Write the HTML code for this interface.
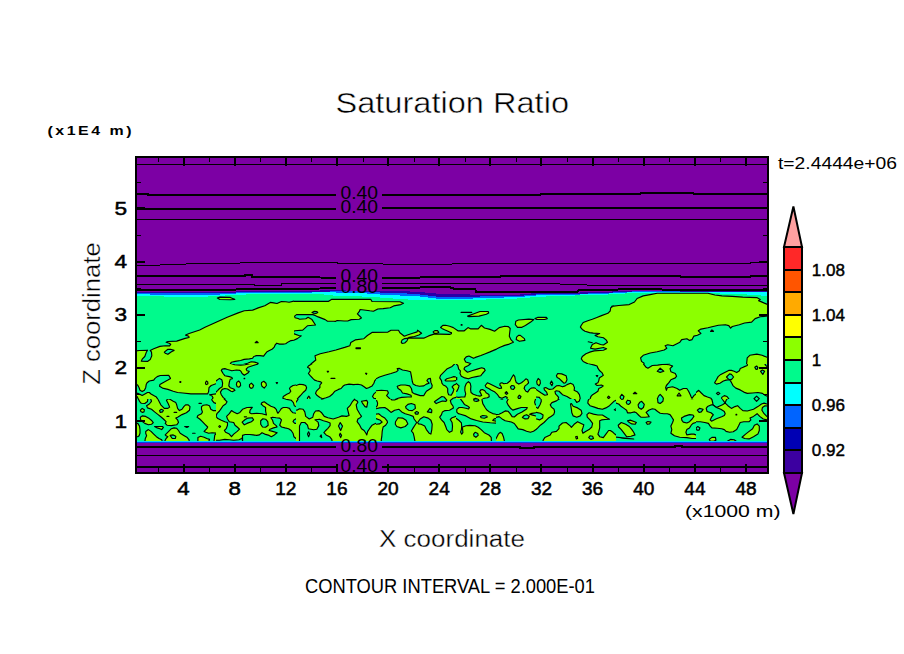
<!DOCTYPE html>
<html><head><meta charset="utf-8"><style>html,body{margin:0;padding:0;background:#fff;width:904px;height:654px;overflow:hidden}svg{display:block}</style></head>
<body><svg width="904" height="654" viewBox="0 0 904 654" shape-rendering="crispEdges">
<rect width="904" height="654" fill="#fff"/>
<rect x="135" y="156" width="634" height="318" fill="#7c00a4"/>
<polygon fill="#2800a8" points="136,292.3 160,292.3 190,292.5 215,292.3 236,291.5 270,291.4 300,291.5 320,290.5 336,290.3 360,290.8 380,290.5 400,291.0 420,292.0 436,293.5 470,294.5 480,295.0 520,294.5 536,293.0 560,293.0 600,292.0 636,290.5 700,290.8 740,290.3 768,290.2 768,291.5 740,291.5 700,291.6 636,291.3 600,293.2 560,294.2 536,294.5 520,295.8 480,296.5 470,296.5 436,296.5 420,294.5 400,293.0 380,292.5 360,291.5 336,291.3 320,291.8 300,292.2 270,292.2 236,292.5 215,293.3 190,293.5 160,293.2 136,293.2"/>
<polygon fill="#0064ff" points="136,293.2 160,293.2 190,293.5 215,293.3 236,292.5 270,292.2 300,292.2 320,291.8 336,291.3 360,291.5 380,292.5 400,293.0 420,294.5 436,296.5 470,296.5 480,296.5 520,295.8 536,294.5 560,294.2 600,293.2 636,291.3 700,291.6 740,291.5 768,291.5 768,292.5 740,292.4 700,292.0 636,292.0 600,294.0 560,295.0 536,295.5 520,297.0 480,298.3 470,298.6 436,298.5 420,296.5 400,295.5 380,294.5 360,293.0 336,292.5 320,292.3 300,292.8 270,293.0 236,293.5 215,294.8 190,295.5 160,295.0 136,293.8"/>
<polygon fill="#00ffff" points="136,293.8 160,295.0 190,295.5 215,294.8 236,293.5 270,293.0 300,292.8 320,292.3 336,292.5 360,293.0 380,294.5 400,295.5 420,296.5 436,298.5 470,298.6 480,298.3 520,297.0 536,295.5 560,295.0 600,294.0 636,292.0 700,292.0 740,292.4 768,292.5 768,296.0 740,294.0 700,293.0 636,292.8 600,295.0 560,295.8 536,297.0 520,298.4 480,299.7 470,300.3 436,300.3 420,300.3 400,299.0 380,297.5 360,296.4 336,295.8 320,294.0 300,293.6 270,293.8 236,294.8 215,296.2 190,297.3 160,296.4 136,295.8"/>
<polygon fill="#00fa8c" points="136,295.8 160,296.4 190,297.3 215,296.2 236,294.8 270,293.8 300,293.6 320,294.0 336,295.8 360,296.4 380,297.5 400,299.0 420,300.3 436,300.3 470,300.3 480,299.7 520,298.4 536,297.0 560,295.8 600,295.0 636,292.8 700,293.0 740,294.0 768,296.0 768,441 136,441"/>
<clipPath id="w0"><rect x="136" y="288" width="158" height="76"/></clipPath>
<g clip-path="url(#w0)" stroke="#000" stroke-width="1.15" stroke-linejoin="round" shape-rendering="auto">
<polygon fill="#8cff00" points="132.5,351.1 139.5,350.5 147.5,350.2 146.2,352.6 144.8,356.5 142.2,359.2 141.3,361.2 147.5,361.4 150.2,359.6 151.8,355.7 151.5,352.1 150.2,350.4 153.7,348.8 159.9,346.4 165.2,345.8 169.6,345.8 170.7,344.3 169.2,343.3 166.1,342.2 167.9,341.5 176.7,341.1 185.1,338.4 189.1,337.5 188.7,336.2 185.6,335.1 189.1,333.5 199.7,330.0 205.0,327.3 216.1,322.3 227.2,317.3 238.2,312.9 244.3,310.7 252.6,310.1 258.2,307.9 264.8,305.7 270.3,302.4 273.6,302.9 277.0,303.5 281.4,301.5 285.8,301.8 289.1,302.2 294.0,301.1 298.5,300.9 298.5,340.1 294.0,340.2 291.0,340.6 288.3,341.9 285.7,343.7 283.0,344.1 279.5,344.1 276.8,343.2 275.1,345.0 274.2,347.2 272.4,349.0 268.9,350.8 266.7,352.1 264.9,354.3 263.6,356.1 260.0,355.6 256.5,355.6 253.8,356.5 252.5,358.3 249.4,358.9 244.1,359.4 240.6,360.5 235.2,361.4 231.3,362.3 230.4,363.6 231.7,364.5 235.2,364.9 240.6,365.1 243.2,364.5 247.6,363.2 251.2,361.8 254.7,362.1 258.3,363.2 257.4,364.2 253.8,364.9 250.3,365.8 247.6,367.1 246.1,371.9 132.5,371.9"/>
<polygon fill="#00fa8c" points="164.3,352.1 167.9,349.3 170.5,349.3 174.1,350.4 171.4,351.7 167.9,354.3 165.2,353.2"/>
<polygon fill="none" points="255.2,342.7 256.6,341.3 258.2,342.7"/>
<polygon fill="#8cff00" points="217.3,298.1 219.9,297.1 230.4,297.4 234.8,299.4 230.4,299.7 219.9,299.5"/>
</g>
<clipPath id="w1"><rect x="294" y="288" width="158" height="76"/></clipPath>
<g clip-path="url(#w1)" stroke="#000" stroke-width="1.15" stroke-linejoin="round" shape-rendering="auto">
<polygon fill="#8cff00" points="290.0,301.4 328.3,301.4 330.6,299.9 331.8,299.3 370.7,299.3 372.0,301.5 399.9,301.8 403.5,303.3 400.8,304.6 393.7,305.9 390.2,307.7 383.1,308.6 377.8,309.0 373.4,311.2 369.8,310.8 360.1,309.5 359.2,311.7 357.4,313.9 360.1,316.5 361.4,317.9 359.2,319.2 351.2,319.6 347.7,321.0 344.2,321.0 337.1,320.5 335.3,321.4 334.0,321.2 327.5,321.2 325.2,319.6 318.2,316.9 315.1,315.4 312.8,314.6 296.5,314.6 294.6,316.1 295.0,317.7 298.1,318.5 299.6,319.2 305.8,318.8 308.1,317.3 312.0,319.6 315.5,325.0 307.4,325.8 302.7,330.1 295.0,330.8 292.7,331.6 294.2,333.9 298.8,335.5 301.2,335.9 297.3,338.6 291.9,340.9 288.0,342.0 288.0,301.4"/>
<polygon fill="#00fa8c" points="312.0,312.4 314.3,311.3 316.7,311.5 317.8,312.4 315.9,313.4 313.6,313.2"/>
<polygon fill="#8cff00" points="308.0,370.1 308.0,367.0 311.5,363.5 315.8,360.0 315.0,355.8 320.2,353.7 329.0,351.8 335.9,350.0 344.7,347.4 349.9,345.7 350.8,342.5 355.2,339.9 363.9,338.7 367.4,335.5 372.0,332.4 387.9,332.1 391.0,330.2 398.5,330.2 399.9,332.8 404.3,336.2 407.4,335.0 412.7,333.3 417.1,331.9 417.6,330.2 421.6,333.3 418.9,335.0 414.5,336.5 409.2,337.2 408.3,338.1 412.7,337.9 424.2,338.1 428.6,335.9 433.9,334.1 439.7,334.1 449.7,334.4 452.6,333.1 449.7,332.1 444.6,329.8 441.9,328.4 440.6,327.5 442.8,325.3 445.5,325.3 449.7,326.2 453.3,327.6 460.0,328.0 460.0,372.0"/>
<polygon fill="#00fa8c" points="401.2,342.1 402.1,339.9 404.7,338.6 408.3,338.1 407.0,340.8 404.7,343.0 402.1,343.4"/>
<polygon fill="#8cff00" points="433.1,331.9 434.8,330.6 437.5,330.6 438.8,332.4 437.0,333.3 434.4,333.3"/>
<polygon fill="none" points="356.0,347.9 360.4,347.9 360.4,348.6 356.0,348.6"/>
</g>
<clipPath id="w2"><rect x="452" y="288" width="158" height="76"/></clipPath>
<g clip-path="url(#w2)" stroke="#000" stroke-width="1.15" stroke-linejoin="round" shape-rendering="auto">
<polygon fill="#8cff00" points="440.0,326.2 449.7,326.2 453.3,327.6 457.9,330.8 464.3,330.8 468.0,327.6 470.8,328.9 478.1,328.9 481.3,325.3 484.5,328.0 490.0,329.4 494.6,331.2 499.2,327.6 504.7,326.2 508.4,326.6 510.2,328.5 509.8,331.7 509.3,336.3 511.1,339.9 513.4,342.2 509.3,344.1 504.7,345.4 500.1,347.3 496.5,349.1 490.0,351.9 485.4,353.7 480.9,355.5 475.4,357.4 473.5,358.3 468.9,356.0 466.2,356.9 464.3,359.2 465.7,362.0 469.9,363.3 471.2,364.3 469.4,366.0 469.0,372.0 440.0,372.0"/>
<polygon fill="none" points="461.1,312.4 471.7,312.4"/>
<polygon fill="#8cff00" points="467.6,316.1 472.6,314.3 480.0,311.5 488.2,311.5 488.7,312.9 486.4,314.3 479.0,316.1 468.9,316.6"/>
<polygon fill="none" points="461.2,324.6 462.0,324.6 462.0,325.2 461.2,325.2"/>
<polygon fill="#8cff00" points="515.8,321.2 518.4,320.0 528.9,319.1 533.8,319.5 530.7,322.1 525.4,325.6 521.9,327.3 517.5,327.3 515.3,324.7"/>
<polygon fill="#8cff00" points="535.0,318.6 537.6,317.4 546.4,317.4 547.3,318.6 544.6,319.5 536.8,319.5"/>
<polygon fill="#8cff00" points="516.6,337.2 518.5,335.4 520.3,335.4 524.4,338.6 524.9,340.4 519.4,341.3 516.2,339.5"/>
<polygon fill="none" points="588.2,341.8 592.3,342.7"/>
</g>
<clipPath id="w3"><rect x="452" y="288" width="158" height="76"/></clipPath>
<g clip-path="url(#w3)" stroke="#000" stroke-width="1.15" stroke-linejoin="round" shape-rendering="auto">
<polygon fill="#8cff00" points="611.7,306.4 618.7,305.5 629.2,304.6 634.5,302.0 637.1,298.5 643.2,295.9 650.2,294.6 657.2,293.2 707.9,293.2 714.9,295.0 721.9,295.9 732.3,296.4 742.8,297.1 756.8,297.6 760.3,299.4 758.6,300.6 763.8,302.9 768.0,304.6 775.0,305.0 775.0,316.0 768.0,316.0 760.3,316.8 755.1,318.6 751.6,322.1 744.6,323.0 739.3,324.7 732.3,326.5 730.6,328.2 728.8,325.6 725.4,324.7 718.4,325.2 713.1,326.5 707.9,327.8 700.9,329.1 698.3,330.8 700.9,333.4 697.4,335.2 693.9,336.1 692.1,339.6 689.5,340.4 686.9,338.7 681.7,339.6 679.9,342.2 676.4,343.9 672.9,345.7 667.7,344.8 665.1,345.7 666.8,348.3 664.2,350.0 657.2,351.8 650.2,353.0 643.2,355.3 640.6,357.9 641.5,361.4 644.1,363.2 643.2,367.0 643.0,372.0 596.0,372.0 596.0,366.0 592.3,364.7 587.8,363.8 583.2,361.5 581.3,358.8 582.3,356.5 585.9,353.7 590.5,351.9 594.2,350.9 603.4,350.2 606.6,348.7 603.4,347.5 595.1,349.1 590.5,348.2 592.3,344.5 596.0,342.7 600.6,344.5 603.4,345.0 607.5,342.2 606.1,339.9 603.4,337.7 597.9,336.7 595.1,335.4 596.5,334.9 599.7,333.5 593.3,333.1 589.6,332.6 585.0,331.2 582.3,329.4 580.4,327.1 581.3,325.3 583.2,322.5 587.8,320.7 592.3,319.3 596.9,317.5 601.5,315.6 607.9,313.3 610.2,311.0 610.7,307.8 613.4,306.0"/>
</g>
<clipPath id="w4"><rect x="610" y="288" width="158" height="76"/></clipPath>
<g clip-path="url(#w4)" stroke="#000" stroke-width="1.15" stroke-linejoin="round" shape-rendering="auto">
<polygon fill="#8cff00" points="611.7,306.4 618.7,305.5 629.2,304.6 634.5,302.0 637.1,298.5 643.2,295.9 650.2,294.6 657.2,293.2 707.9,293.2 714.9,295.0 721.9,295.9 732.3,296.4 742.8,297.1 756.8,297.6 760.3,299.4 758.6,300.6 763.8,302.9 768.0,304.6 775.0,305.0 775.0,316.0 768.0,316.0 760.3,316.8 755.1,318.6 751.6,322.1 744.6,323.0 739.3,324.7 732.3,326.5 730.6,328.2 728.8,325.6 725.4,324.7 718.4,325.2 713.1,326.5 707.9,327.8 700.9,329.1 698.3,330.8 700.9,333.4 697.4,335.2 693.9,336.1 692.1,339.6 689.5,340.4 686.9,338.7 681.7,339.6 679.9,342.2 676.4,343.9 672.9,345.7 667.7,344.8 665.1,345.7 666.8,348.3 664.2,350.0 657.2,351.8 650.2,353.0 643.2,355.3 640.6,357.9 641.5,361.4 644.1,363.2 643.2,367.0 643.0,372.0 596.0,372.0 596.0,366.0 592.3,364.7 587.8,363.8 583.2,361.5 581.3,358.8 582.3,356.5 585.9,353.7 590.5,351.9 594.2,350.9 603.4,350.2 606.6,348.7 603.4,347.5 595.1,349.1 590.5,348.2 592.3,344.5 596.0,342.7 600.6,344.5 603.4,345.0 607.5,342.2 606.1,339.9 603.4,337.7 597.9,336.7 595.1,335.4 596.5,334.9 599.7,333.5 593.3,333.1 589.6,332.6 585.0,331.2 582.3,329.4 580.4,327.1 581.3,325.3 583.2,322.5 587.8,320.7 592.3,319.3 596.9,317.5 601.5,315.6 607.9,313.3 610.2,311.0 610.7,307.8 613.4,306.0"/>
<polygon fill="#8cff00" points="652.0,372.0 652.0,367.0 655.4,364.9 669.4,364.2 672.9,365.8 672.9,367.0 673.0,372.0"/>
<polygon fill="#8cff00" points="746.3,372.0 746.3,367.0 747.2,357.9 749.8,355.3 756.8,354.1 762.1,355.3 766.4,357.0 768.0,357.6 775.0,358.0 775.0,372.0"/>
<polygon fill="none" points="710.5,331.3 711.9,329.9 713.5,331.3"/>
</g>
<clipPath id="w5"><rect x="136" y="364" width="80" height="35"/></clipPath>
<g clip-path="url(#w5)" stroke="#000" stroke-width="1.15" stroke-linejoin="round" shape-rendering="auto">
<polygon fill="#8cff00" points="133.3,359.3 218.7,359.3 218.7,383.7 216.0,383.7 211.2,385.5 209.0,387.7 208.6,391.6 207.7,393.9 190.9,393.9 182.9,393.0 177.6,392.5 173.2,391.2 167.9,389.4 162.5,388.1 159.5,386.3 159.9,384.6 163.4,382.4 167.9,380.1 170.5,378.4 168.7,375.3 160.3,375.5 157.2,376.6 155.0,378.4 153.7,380.1 149.3,381.0 147.1,382.8 146.2,384.6 145.7,387.7 144.4,390.3 142.2,391.6 140.0,390.3 139.1,387.7 137.8,385.2 136.0,384.1 133.3,384.1"/>
<polygon fill="#8cff00" points="133.3,393.7 137.8,393.2 142.2,395.5 147.5,392.5 149.3,392.5 151.0,394.0 153.7,395.6 156.4,397.1 158.1,399.6 158.7,401.8 160.3,404.5 161.7,408.9 133.3,408.9"/>
<polygon fill="#00fa8c" points="133.3,396.1 137.1,396.5 138.2,398.7 139.1,400.9 133.3,402.7"/>
<polygon fill="#8cff00" points="209.5,394.7 212.1,396.1 213.0,397.8 212.1,399.6 213.9,401.4 216.0,402.7 218.7,402.7 218.7,394.3 216.0,393.9"/>
<polygon fill="#8cff00" points="205.5,382.8 206.4,381.0 207.7,381.9 207.9,383.7 206.6,384.6 205.6,384.1"/>
<polygon fill="none" points="180.0,381.6 180.7,381.6 180.7,382.4 180.0,382.4"/>
</g>
<clipPath id="w6"><rect x="136" y="399" width="80" height="42"/></clipPath>
<g clip-path="url(#w6)" stroke="#000" stroke-width="1.15" stroke-linejoin="round" shape-rendering="auto">
<polygon fill="#8cff00" points="137.3,393.3 137.8,397.8 139.5,401.3 141.3,403.3 144.8,403.5 147.5,401.5 147.9,398.2 149.3,396.9 150.2,393.3"/>
<polygon fill="#8cff00" points="150.2,393.3 150.6,398.7 151.5,401.3 149.3,404.0 146.6,405.7 147.5,407.9 151.5,409.3 154.6,411.9 158.1,414.6 160.8,416.8 163.4,419.0 166.1,421.7 165.2,423.4 167.0,425.2 171.4,425.6 176.7,424.8 178.5,422.5 177.6,419.9 175.8,418.1 177.6,417.2 182.0,414.6 186.4,412.8 189.5,410.2 190.0,406.6 188.2,404.8 185.6,404.8 183.8,406.6 182.0,409.3 179.4,410.6 177.6,408.4 176.7,404.8 175.8,402.6 173.2,401.3 169.6,399.1 167.9,398.7 166.5,400.4 167.9,403.1 168.7,404.8 169.6,407.1 167.9,408.4 164.3,408.4 160.8,404.8 159.5,402.2 158.1,399.5 157.2,396.9 156.8,393.3"/>
<polygon fill="#00fa8c" points="159.5,410.6 161.2,409.3 163.4,410.2 162.5,411.9 160.3,412.4"/>
<polygon fill="none" points="174.1,412.4 176.7,412.4"/>
<polygon fill="none" points="167.0,416.4 168.9,416.4"/>
<polygon fill="#8cff00" points="140.4,417.2 142.2,415.9 145.7,416.4 149.3,418.6 151.9,420.8 153.3,422.5 151.5,424.3 148.4,424.8 144.8,423.4 143.1,422.1 141.3,420.8 140.4,419.0"/>
<polygon fill="#8cff00" points="140.4,410.2 142.2,408.4 144.4,409.7 144.0,411.9 142.2,412.4 140.9,411.5"/>
<polygon fill="#8cff00" points="133.3,423.4 137.8,423.4 139.5,426.1 140.0,429.6 140.0,433.2 139.1,435.8 137.8,436.7 133.3,436.7"/>
<polygon fill="#8cff00" points="145.7,431.4 148.4,429.6 151.0,431.4 153.7,434.1 156.4,436.7 159.0,438.5 161.7,439.8 162.5,442.0 144.8,442.0 145.3,438.5 146.6,435.8 145.7,433.2"/>
<polygon fill="#8cff00" points="154.6,426.5 162.5,426.5 163.4,427.4 161.7,429.6 159.9,428.7 157.2,427.9"/>
<polygon fill="#8cff00" points="165.2,434.9 168.7,431.4 171.4,428.7 174.1,427.9 176.7,428.3 178.5,430.5 180.2,433.2 183.8,435.4 187.3,437.6 189.1,439.8 189.1,442.0 164.3,442.0 166.1,438.5 167.9,436.7 166.1,435.8"/>
<polygon fill="#00fa8c" points="170.1,435.4 173.2,434.9 175.8,436.3 175.4,438.5 172.3,438.5"/>
<polygon fill="#8cff00" points="201.5,406.6 203.3,405.3 206.8,404.8 209.5,405.7 210.8,409.3 213.0,410.6 216.0,410.6 218.7,410.6 218.7,433.2 216.0,433.2 212.1,432.7 208.6,433.2 205.9,432.3 204.1,431.4 206.8,428.7 207.7,427.0 205.0,424.3 202.4,421.7 199.7,419.0 197.1,417.2 197.9,415.5 201.5,413.7 202.4,411.9 201.5,409.3"/>
<polygon fill="#8cff00" points="210.8,393.3 211.2,396.9 212.1,400.4 213.9,402.6 216.0,403.5 218.7,403.5 218.7,393.3"/>
<polygon fill="#8cff00" points="197.9,437.6 200.6,436.3 204.1,437.2 206.8,438.5 209.5,439.4 208.6,442.0 197.9,442.0"/>
<polygon fill="#8cff00" points="214.8,434.9 216.0,434.1 218.7,434.1 218.7,442.0 213.9,442.0"/>
<polygon fill="none" points="192.6,433.2 195.1,433.2"/>
<polygon fill="none" points="184.7,426.5 188.7,426.5 186.9,427.4"/>
<polygon fill="none" points="199.0,403.4 201.3,403.4"/>
</g>
<clipPath id="w7"><rect x="216" y="364" width="80" height="35"/></clipPath>
<g clip-path="url(#w7)" stroke="#000" stroke-width="1.15" stroke-linejoin="round" shape-rendering="auto">
<polygon fill="#8cff00" points="213.3,359.3 230.6,359.3 230.6,363.3 234.6,364.7 240.8,365.1 245.2,364.7 249.6,363.8 254.9,363.1 258.5,363.3 257.6,364.2 253.2,365.5 247.9,367.3 246.1,369.1 247.0,370.8 249.2,371.3 247.9,373.1 244.3,375.3 242.1,373.5 241.2,371.7 239.9,370.4 236.4,370.0 231.9,370.8 227.5,369.5 224.8,368.6 222.2,369.1 221.3,370.4 223.1,373.5 224.8,375.7 229.3,376.6 231.9,377.5 232.4,378.8 230.2,379.3 229.3,382.4 228.8,385.9 230.2,387.7 233.7,389.0 235.0,390.3 232.8,391.6 231.0,391.2 227.5,389.0 224.8,388.5 222.2,389.4 220.4,392.1 221.3,394.7 223.1,397.4 225.7,399.6 227.5,401.8 226.6,404.5 225.7,408.9 213.3,408.9 213.3,392.1 216.0,392.1 217.8,390.3 219.5,388.5 222.2,386.8 222.6,383.2 221.8,379.7 219.5,378.4 216.0,381.0 213.3,381.0"/>
<polygon fill="#8cff00" points="236.8,382.4 238.6,381.0 240.3,382.8 240.6,385.5 239.0,387.2 237.2,386.8 236.4,384.6"/>
<polygon fill="#8cff00" points="249.5,384.6 251.4,383.2 253.6,385.5 252.7,387.7 251.0,388.4 249.5,386.8"/>
<polygon fill="#8cff00" points="261.6,382.4 263.8,381.3 266.0,383.2 266.4,385.5 264.2,388.1 262.0,386.3 261.3,384.1"/>
<polygon fill="none" points="244.1,378.2 244.7,378.2 244.7,378.7 244.1,378.7"/>
<polygon fill="none" points="276.2,382.5 277.6,382.5 276.9,383.6"/>
<polygon fill="#8cff00" points="298.7,384.6 296.0,385.0 293.0,385.5 290.3,387.2 289.5,388.5 290.8,391.2 289.5,393.0 286.8,394.3 283.3,396.5 282.8,398.3 285.9,399.2 290.3,399.6 292.1,400.9 292.1,402.7 293.9,403.6 298.7,403.6"/>
<polygon fill="#8cff00" points="261.1,408.9 261.1,406.0 262.0,402.7 263.8,401.4 266.4,401.8 268.2,403.6 269.1,406.0 269.1,408.9"/>
<polygon fill="#8cff00" points="236.2,408.9 236.8,402.9 238.6,402.3 239.5,403.6 239.7,408.9"/>
</g>
<clipPath id="w8"><rect x="216" y="399" width="80" height="42"/></clipPath>
<g clip-path="url(#w8)" stroke="#000" stroke-width="1.15" stroke-linejoin="round" shape-rendering="auto">
<polygon fill="#8cff00" points="213.3,393.3 298.7,393.3 298.7,449.1 213.3,449.1"/>
<polygon fill="#00fa8c" points="222.2,393.3 221.8,396.9 224.8,399.5 227.1,401.8 225.7,404.0 223.1,405.7 221.3,408.4 219.5,411.0 216.9,413.7 216.0,416.4 217.8,418.6 221.3,420.3 224.8,421.7 227.5,422.5 227.5,425.2 226.2,428.7 224.4,430.5 225.7,432.3 229.3,434.1 231.5,436.7 233.7,434.1 237.2,431.4 239.5,429.2 237.2,427.0 235.0,425.2 233.7,422.5 229.3,421.7 227.5,419.0 226.6,416.4 229.3,413.7 231.5,410.6 233.7,411.9 237.2,413.7 239.9,412.4 242.5,409.3 247.0,407.5 252.3,407.3 250.1,410.2 249.6,412.8 251.4,413.7 256.7,413.3 262.0,413.7 266.4,415.0 265.6,411.0 265.6,407.5 262.9,405.7 261.1,404.0 262.0,402.6 264.2,401.8 267.3,404.0 270.9,406.2 274.4,407.5 276.2,409.3 277.1,411.9 277.9,413.3 279.7,411.0 281.5,408.4 283.3,407.5 286.8,407.5 289.5,408.4 290.8,410.6 293.0,412.8 296.0,413.3 298.7,413.3 298.7,406.6 296.0,406.6 294.3,405.7 293.4,402.6 291.2,400.2 286.8,399.4 283.3,398.2 282.4,393.3"/>
<polygon fill="#00fa8c" points="242.1,422.1 245.2,419.5 247.9,418.1 252.3,417.7 253.6,419.9 251.4,421.7 247.0,423.4 244.3,424.8"/>
<polygon fill="#00fa8c" points="260.7,420.8 262.9,418.8 265.6,419.2 267.8,421.7 268.2,425.2 265.6,427.2 262.5,427.0 260.7,424.3"/>
<polygon fill="#00fa8c" points="242.5,449.1 242.5,435.4 245.2,434.5 249.6,434.5 253.2,434.9 256.7,435.4 259.4,434.9 262.0,432.7 264.7,434.1 269.1,435.4 271.3,436.7 274.4,434.9 277.1,432.7 272.6,431.4 269.1,430.5 270.0,429.2 273.5,427.9 277.1,427.0 276.2,425.6 273.5,423.4 272.6,420.3 270.9,417.7 272.6,417.2 276.2,417.7 279.7,418.1 281.5,419.9 280.6,422.5 279.7,425.2 281.5,427.0 285.0,427.9 288.6,428.7 291.2,430.5 293.0,433.2 293.9,436.7 296.0,438.5 298.7,438.5 298.7,449.1"/>
<polygon fill="#00fa8c" points="298.7,418.6 296.0,418.8 293.9,419.9 293.0,421.7 294.8,423.4 298.7,423.3"/>
<polygon fill="none" points="218.8,426.5 219.7,425.6 220.6,426.5 219.7,427.4"/>
<polygon fill="none" points="244.3,416.8 246.5,416.8"/>
<polygon fill="#00fa8c" points="213.3,449.1 213.3,440.2 219.5,440.2 224.8,439.4 229.3,439.8 233.7,440.2 239.0,439.8 241.7,438.5 242.5,437.6 242.5,449.1"/>
</g>
<clipPath id="w9"><rect x="296" y="364" width="80" height="35"/></clipPath>
<g clip-path="url(#w9)" stroke="#000" stroke-width="1.15" stroke-linejoin="round" shape-rendering="auto">
<polygon fill="#8cff00" points="315.0,359.3 315.0,362.0 311.9,363.8 308.4,366.0 307.5,367.3 309.7,368.6 310.2,370.8 308.4,373.5 310.2,375.7 312.8,378.4 314.6,380.1 317.2,381.0 320.8,381.9 321.7,382.8 319.9,385.0 319.9,387.7 318.1,389.4 316.4,391.2 315.5,393.4 317.2,395.6 319.9,397.4 322.5,398.7 326.1,397.8 329.6,396.5 332.3,394.3 334.9,391.2 338.5,389.4 341.1,388.5 342.9,386.3 344.7,385.0 349.1,384.1 353.5,384.6 357.9,384.3 361.5,385.0 364.1,386.8 366.4,388.5 368.6,387.7 372.1,385.9 373.9,383.2 374.8,380.6 376.0,379.3 378.7,378.8 378.7,359.3"/>
<polygon fill="none" points="327.2,371.2 328.6,371.2 327.9,372.3"/>
<polygon fill="none" points="331.0,378.4 334.9,378.4"/>
<polygon fill="none" points="365.5,373.2 366.8,373.2 366.4,374.4"/>
<polygon fill="#8cff00" points="293.3,385.5 296.0,385.5 299.5,384.3 303.1,384.6 305.7,385.5 306.6,387.7 305.7,390.3 303.1,392.5 301.3,394.7 299.5,396.5 297.8,398.3 296.0,400.9 293.3,400.9"/>
<polygon fill="#8cff00" points="307.5,397.8 308.8,396.1 310.0,397.8 309.7,401.4 308.4,402.7 307.3,400.9"/>
<polygon fill="#8cff00" points="350.9,408.9 350.9,406.0 352.6,400.9 354.4,399.2 357.1,400.9 356.2,403.6 355.3,408.9"/>
<polygon fill="#8cff00" points="360.6,401.8 363.3,400.5 366.8,400.2 367.7,403.6 366.8,408.9 363.3,408.9"/>
<polygon fill="#8cff00" points="378.7,392.1 376.0,392.1 373.9,393.9 372.5,396.5 373.9,398.3 376.0,398.7 378.7,398.7"/>
</g>
<clipPath id="w10"><rect x="296" y="399" width="80" height="42"/></clipPath>
<g clip-path="url(#w10)" stroke="#000" stroke-width="1.15" stroke-linejoin="round" shape-rendering="auto">
<polygon fill="#8cff00" points="293.3,393.3 299.5,393.3 298.7,397.8 297.3,400.4 296.0,402.2 293.3,402.2"/>
<polygon fill="#8cff00" points="317.2,393.3 319.0,396.9 321.7,399.1 325.2,398.2 328.7,396.9 330.5,393.3"/>
<polygon fill="#8cff00" points="373.0,393.3 373.4,396.9 376.0,398.7 378.7,398.7 378.7,393.3"/>
<polygon fill="#8cff00" points="293.3,409.3 296.9,410.2 299.5,408.8 303.1,409.3 304.8,411.9 305.7,416.4 309.3,419.0 312.8,417.2 313.7,413.7 315.5,411.0 319.0,410.6 321.7,412.8 324.3,416.4 327.9,417.7 333.2,419.0 338.5,417.2 342.0,415.9 346.4,416.4 349.1,415.5 348.2,411.9 347.3,408.4 350.0,405.7 352.6,401.3 354.4,399.5 357.1,400.9 357.9,402.2 356.2,404.8 357.1,409.3 359.7,413.7 361.5,416.4 359.7,418.1 357.9,419.0 357.1,421.7 359.7,425.2 361.5,428.7 364.1,430.5 365.9,433.2 366.8,434.9 367.7,431.4 369.5,428.7 372.1,425.2 373.9,424.3 376.0,423.4 378.7,423.4 378.7,449.1 293.3,449.1"/>
<polygon fill="#00fa8c" points="299.5,449.1 299.5,433.2 299.5,426.1 301.3,422.5 304.8,422.5 307.5,425.2 308.4,428.7 313.7,429.8 316.8,429.2 318.8,425.6 318.1,422.1 315.0,419.9 319.5,419.2 323.4,420.8 327.0,421.7 330.1,423.0 330.1,425.6 327.9,428.3 325.2,431.0 323.9,432.7 326.1,434.9 329.6,436.7 331.8,439.4 333.2,449.1"/>
<polygon fill="#00fa8c" points="338.5,426.1 340.2,422.5 342.5,426.1 340.7,430.5"/>
<polygon fill="#00fa8c" points="339.4,434.9 340.2,433.2 341.6,435.4 340.7,437.6"/>
<polygon fill="none" points="307.5,434.1 308.6,431.8 309.7,434.1 308.6,436.7"/>
<polygon fill="none" points="320.1,436.3 321.2,434.9 321.7,437.6"/>
<polygon fill="#8cff00" points="361.5,401.3 366.8,400.4 367.7,402.2 366.8,407.1 365.0,406.6 362.4,403.1"/>
</g>
<clipPath id="w11"><rect x="376" y="364" width="80" height="35"/></clipPath>
<g clip-path="url(#w11)" stroke="#000" stroke-width="1.15" stroke-linejoin="round" shape-rendering="auto">
<polygon fill="#8cff00" points="373.3,359.3 458.7,359.3 458.7,415.1 373.3,415.1"/>
<polygon fill="#00fa8c" points="373.3,378.8 376.0,378.8 379.5,377.0 384.8,375.3 391.0,373.5 396.4,371.7 398.1,370.4 397.2,368.6 399.5,368.4 402.5,370.0 407.0,370.8 410.5,371.7 411.4,376.2 412.3,381.5 413.2,384.1 415.8,385.5 419.4,386.3 423.8,385.9 426.4,384.1 429.1,383.2 426.9,380.6 428.2,378.8 430.4,378.4 430.9,382.4 432.2,385.5 431.8,387.7 429.1,389.4 426.4,391.2 424.7,393.9 423.8,395.6 420.2,395.6 414.9,393.9 412.3,392.5 411.4,388.5 409.6,385.9 405.2,385.0 400.8,385.0 397.2,386.3 398.1,388.5 400.8,390.3 402.5,393.0 407.0,393.9 411.0,395.2 411.4,397.0 407.9,397.0 401.7,397.4 398.1,398.3 393.7,400.1 391.0,400.1 388.4,397.4 386.6,395.6 388.4,393.0 387.5,390.8 381.3,390.3 376.0,390.8 373.3,390.8"/>
<polygon fill="#00fa8c" points="373.3,400.1 376.9,400.5 377.8,402.7 376.9,405.4 373.3,405.4"/>
<polygon fill="#00fa8c" points="405.2,408.9 405.2,406.0 407.0,403.6 410.5,402.9 414.1,404.0 414.9,406.0 414.9,408.9"/>
<polygon fill="#00fa8c" points="456.0,359.3 456.0,362.0 454.8,363.8 452.1,366.4 446.8,369.1 443.3,372.6 440.6,375.3 439.7,377.9 441.5,380.6 441.9,383.2 443.3,385.0 445.9,386.3 447.7,388.5 447.7,392.1 448.6,394.7 451.2,395.2 453.0,392.1 453.9,389.4 452.1,386.8 453.9,385.0 456.0,384.1 458.7,384.1 458.7,359.3"/>
<polygon fill="#8cff00" points="445.0,380.1 446.8,378.8 451.2,377.5 453.9,376.6 456.0,377.0 458.7,377.0 458.7,380.6 456.0,380.6 453.0,381.0 449.5,381.0 445.9,381.0"/>
<polygon fill="#00fa8c" points="434.4,401.8 437.9,399.2 441.9,396.5 444.1,397.0 446.8,400.1 445.9,401.4 442.4,400.9 437.9,402.7 436.2,403.6"/>
<polygon fill="#00fa8c" points="458.7,397.0 456.0,397.4 453.0,398.3 450.3,400.5 451.2,403.6 453.0,406.0 458.7,408.9"/>
</g>
<clipPath id="w12"><rect x="376" y="399" width="80" height="42"/></clipPath>
<g clip-path="url(#w12)" stroke="#000" stroke-width="1.15" stroke-linejoin="round" shape-rendering="auto">
<polygon fill="#8cff00" points="373.3,393.3 458.7,393.3 458.7,449.1 373.3,449.1"/>
<polygon fill="#00fa8c" points="387.5,393.3 388.4,396.4 391.9,400.0 394.6,400.0 399.0,398.2 405.2,397.3 411.4,396.9 412.3,393.3"/>
<polygon fill="#00fa8c" points="373.3,400.0 376.9,400.9 377.6,403.1 377.3,405.7 376.0,407.1 373.3,407.1"/>
<polygon fill="#00fa8c" points="373.3,409.3 376.0,408.8 379.5,407.9 384.8,407.5 387.5,409.3 391.0,412.4 394.6,410.2 399.0,409.3 401.7,411.9 405.2,413.7 409.6,415.0 413.2,416.4 414.1,419.0 416.7,422.5 414.9,425.2 413.2,427.9 411.4,431.0 413.2,433.2 414.1,436.7 414.9,441.1 414.9,449.1 381.3,449.1 381.3,439.4 381.8,436.7 382.2,431.4 383.1,427.0 385.7,425.2 387.5,422.5 387.1,420.8 384.8,418.1 381.3,415.9 378.7,413.7 376.0,414.1 373.3,414.1"/>
<polygon fill="#00fa8c" points="373.3,418.6 376.0,418.6 380.4,420.3 382.2,422.1 379.5,423.9 376.0,424.3 373.3,424.3"/>
<polygon fill="#8cff00" points="395.5,421.7 398.1,417.7 402.5,418.1 406.1,420.3 407.9,423.9 405.2,426.5 400.8,427.9 396.8,426.5 395.3,424.3"/>
<polygon fill="#00fa8c" points="417.6,422.5 420.2,419.0 423.8,416.8 428.2,418.1 430.9,420.3 432.2,424.3 431.8,429.6 430.9,434.1 429.1,433.2 426.4,429.6 424.7,426.1 421.1,424.3 418.5,423.9"/>
<polygon fill="#00fa8c" points="405.6,406.6 407.9,404.4 411.4,403.5 414.9,404.8 415.4,408.4 412.3,410.6 408.7,410.2 406.1,408.4"/>
<polygon fill="#00fa8c" points="414.9,412.8 416.7,411.5 418.5,412.4 418.0,414.1 415.8,414.1"/>
<polygon fill="#00fa8c" points="427.3,411.9 430.0,408.4 431.8,410.2 431.6,412.6"/>
<polygon fill="#00fa8c" points="434.4,401.8 437.9,399.2 441.9,396.5 444.1,397.0 446.8,400.1 445.9,401.4 442.4,401.0 437.9,402.7 436.2,403.6"/>
<polygon fill="#00fa8c" points="458.7,393.3 458.7,396.9 456.0,397.4 453.0,398.3 450.3,400.5 451.2,403.6 453.0,406.0 453.4,407.9 449.5,410.2 445.0,410.6 442.4,411.9 441.5,414.6 439.7,417.2 441.5,419.9 444.1,422.5 445.9,427.0 446.8,429.6 449.5,432.3 452.1,431.0 452.5,426.1 452.1,422.5 450.3,419.5 452.1,417.7 456.0,416.4 458.7,416.4"/>
</g>
<clipPath id="w13"><rect x="456" y="364" width="80" height="35"/></clipPath>
<g clip-path="url(#w13)" stroke="#000" stroke-width="1.15" stroke-linejoin="round" shape-rendering="auto">
<polygon fill="#8cff00" points="453.3,359.3 469.3,359.3 471.0,363.3 468.4,365.5 464.8,367.3 464.0,369.1 465.7,370.8 467.5,372.2 471.9,370.8 477.2,369.1 481.7,367.8 484.3,368.6 485.2,370.4 482.5,373.5 480.8,375.7 476.4,376.6 471.9,377.5 468.4,378.8 464.8,377.9 461.3,376.2 460.0,373.5 460.4,370.8 458.7,369.1 457.8,365.5 456.0,363.8 453.3,363.8"/>
<polygon fill="#8cff00" points="453.3,382.8 456.0,383.2 459.1,385.9 458.2,388.5 456.9,391.2 453.3,391.2"/>
<polygon fill="#8cff00" points="453.3,397.4 456.0,397.0 458.7,397.4 461.3,397.0 464.8,397.0 465.7,393.9 464.8,390.3 465.0,386.8 466.2,383.7 468.4,381.6 470.2,383.2 470.9,386.3 470.6,389.4 471.0,392.5 473.3,394.3 476.8,395.5 479.9,396.1 481.7,395.5 480.8,393.4 479.7,391.6 480.8,389.9 482.5,389.6 484.8,390.8 486.1,392.8 488.9,394.6 489.2,396.7 487.4,397.8 484.3,398.3 482.5,399.2 482.1,401.8 482.5,406.0 482.5,408.9 453.3,408.9"/>
<polygon fill="#00fa8c" points="473.3,399.2 475.5,398.3 478.1,399.2 477.7,401.4 475.0,401.6"/>
<polygon fill="#8cff00" points="485.2,385.5 487.4,382.8 489.6,383.7 493.2,385.5 496.7,387.2 499.4,388.5 501.6,388.1 501.1,386.3 499.8,385.0 500.2,383.2 502.0,382.8 503.8,383.7 507.3,383.2 510.0,381.0 511.8,377.5 513.5,374.8 514.8,376.6 515.3,379.7 516.2,382.4 518.8,384.1 521.5,382.8 524.1,380.6 525.9,378.8 527.7,379.7 528.6,382.8 526.8,384.6 525.0,385.9 524.1,388.5 525.9,391.2 527.7,392.1 529.5,389.4 531.2,388.1 533.9,387.7 536.0,388.5 538.7,388.5 538.7,408.9 508.2,408.9 507.3,403.6 506.4,400.1 507.3,397.4 505.6,396.5 502.0,398.3 499.4,397.4 497.6,394.7 494.9,392.1 491.4,390.3 488.7,388.5 486.1,387.2"/>
<polygon fill="#00fa8c" points="510.4,386.8 511.8,385.5 514.0,385.9 514.8,387.7 513.5,389.4 511.3,389.0"/>
<polygon fill="#00fa8c" points="505.1,393.0 506.4,391.6 507.8,393.4 506.4,394.3"/>
<polygon fill="#00fa8c" points="517.9,397.0 519.3,395.2 521.0,396.5 520.2,398.3 518.4,398.3"/>
<polygon fill="#00fa8c" points="538.7,399.2 536.0,399.2 535.2,400.9 536.0,402.7 538.7,402.7"/>
<polygon fill="none" points="455.6,377.5 456.7,377.5 456.7,379.7 455.6,379.7"/>
</g>
<clipPath id="w14"><rect x="456" y="399" width="40" height="42"/></clipPath>
<g clip-path="url(#w14)" stroke="#000" stroke-width="1.15" stroke-linejoin="round" shape-rendering="auto">
<polygon fill="#8cff00" points="460.6,393.7 460.6,399.1 462.9,402.1 464.4,404.4 467.5,405.9 469.4,407.5 468.6,409.0 465.9,408.2 462.1,407.5 459.1,407.5 456.8,409.4 456.8,412.1 458.3,413.6 460.6,414.3 465.9,415.9 471.3,418.9 476.6,420.5 482.8,422.0 490.4,422.8 496.0,423.1 498.8,423.1 498.8,414.3 496.0,414.3 492.7,413.6 489.6,412.1 486.6,409.8 485.1,407.5 482.8,403.6 482.0,399.8 482.4,397.5 485.1,396.0 486.6,393.7"/>
<polygon fill="#00fa8c" points="473.6,399.8 475.1,398.7 478.2,399.1 478.9,400.6 476.6,401.4 474.3,401.0"/>
<polygon fill="#00fa8c" points="480.5,416.6 482.8,415.5 486.6,416.0 487.3,417.0 484.3,418.2 481.2,417.8"/>
<polygon fill="#00fa8c" points="492.7,420.5 494.2,418.9 496.0,418.6 498.8,418.9 498.8,421.2 496.0,421.2"/>
<polygon fill="#8cff00" points="453.7,418.2 456.0,418.2 459.1,420.5 461.4,422.8 461.7,426.6 461.4,429.6 460.6,431.9 461.7,434.2 462.9,432.7 462.5,428.1 462.1,427.3 465.9,425.8 469.8,425.4 475.1,425.8 478.2,427.3 481.2,429.6 484.3,432.7 488.9,435.0 491.2,437.3 491.9,449.5 453.7,449.5"/>
<polygon fill="#00fa8c" points="473.6,434.2 475.1,432.3 477.8,433.5 478.2,435.4 475.9,437.3 474.0,436.1"/>
</g>
<clipPath id="w15"><rect x="496" y="399" width="40" height="42"/></clipPath>
<g clip-path="url(#w15)" stroke="#000" stroke-width="1.15" stroke-linejoin="round" shape-rendering="auto">
<polygon fill="#8cff00" points="493.7,393.7 497.5,393.7 497.5,396.0 499.1,398.3 502.1,399.1 505.9,397.5 507.5,396.0 508.2,399.1 506.7,402.1 508.2,405.2 510.5,408.2 512.8,410.1 517.4,408.6 521.2,407.5 527.3,407.5 526.6,409.0 522.0,412.1 517.4,414.3 514.3,417.0 512.1,416.6 510.1,413.6 508.2,411.3 505.2,410.9 502.1,412.8 499.1,414.3 496.0,414.7 493.7,414.7 493.7,417.4 496.0,417.4 499.1,416.6 502.1,418.9 505.2,420.8 511.3,422.0 514.3,423.5 516.6,426.6 518.2,428.9 522.8,429.6 526.6,431.2 530.4,432.3 533.5,431.2 536.0,429.6 538.8,429.6 538.8,393.7"/>
<polygon fill="#00fa8c" points="522.4,417.4 524.3,415.5 526.6,414.7 529.3,416.3 528.1,418.6 525.1,418.9"/>
<polygon fill="#00fa8c" points="538.8,412.4 536.0,412.7 531.9,413.4 529.6,414.3 532.7,415.1 536.0,416.0 538.8,416.0"/>
<polygon fill="#00fa8c" points="538.8,399.1 535.4,399.4 534.6,402.1 535.4,404.8 538.8,405.2"/>
<polygon fill="#8cff00" points="493.7,438.8 496.0,438.8 498.3,434.2 500.2,432.3 502.1,433.5 503.6,437.3 504.4,441.1 504.4,449.5 493.7,449.5"/>
<polygon fill="none" points="518.2,396.0 518.9,397.9 520.5,397.9 521.2,396.0"/>
</g>
<clipPath id="w16"><rect x="536" y="364" width="80" height="35"/></clipPath>
<g clip-path="url(#w16)" stroke="#000" stroke-width="1.15" stroke-linejoin="round" shape-rendering="auto">
<polygon fill="#8cff00" points="584.7,359.3 585.1,362.4 589.1,363.8 594.4,365.1 597.1,366.0 597.9,368.2 599.7,370.8 601.9,372.6 603.3,375.3 601.5,376.6 599.3,377.9 598.8,380.6 597.9,382.8 595.3,384.1 597.1,385.5 601.5,385.0 603.3,385.9 601.5,387.2 598.8,388.5 597.9,391.2 595.3,393.0 592.6,394.7 590.9,396.5 590.0,399.2 588.2,400.9 587.3,402.7 588.2,406.0 589.1,408.9 618.7,408.9 618.7,359.3"/>
<polygon fill="#00fa8c" points="618.7,400.1 616.0,400.9 613.0,402.7 611.7,406.0 612.1,408.9 618.7,408.9"/>
<polygon fill="none" points="607.5,397.4 608.6,396.1 609.9,397.4 608.6,398.7"/>
<polygon fill="none" points="596.2,375.5 597.8,375.5 597.1,376.6"/>
<polygon fill="#8cff00" points="533.3,389.0 536.0,389.4 538.7,391.2 541.3,393.0 544.8,395.2 547.5,394.7 546.6,392.1 544.4,389.9 544.0,388.1 545.7,387.5 549.3,389.4 552.8,389.0 556.4,385.9 559.0,385.5 562.5,386.8 565.2,385.9 567.0,384.6 570.5,383.2 573.2,384.6 574.5,387.7 574.1,390.3 577.6,392.1 579.4,394.7 580.2,398.3 579.4,400.9 576.7,403.2 574.1,400.9 571.4,399.2 567.0,396.5 562.5,394.7 560.3,392.5 559.0,391.2 556.4,390.8 555.0,391.6 555.5,393.9 557.2,395.6 558.6,397.4 558.1,399.2 556.4,400.9 552.8,401.8 551.0,403.2 550.6,406.0 550.6,408.9 541.3,408.9 541.3,406.0 540.9,400.1 539.5,397.4 536.0,397.0 533.3,397.0"/>
<polygon fill="#8cff00" points="556.4,375.7 557.7,373.5 561.7,373.9 566.1,375.7 567.0,379.7 565.6,382.8 563.9,383.2 561.7,381.0 559.5,378.8 557.2,377.5"/>
<polygon fill="#8cff00" points="536.7,381.5 538.2,378.4 540.0,380.1 540.4,383.2 539.1,385.7 537.1,384.1"/>
<polygon fill="#8cff00" points="550.2,383.2 551.5,381.0 552.8,383.2 551.9,385.7"/>
</g>
<clipPath id="w17"><rect x="536" y="399" width="80" height="42"/></clipPath>
<g clip-path="url(#w17)" stroke="#000" stroke-width="1.15" stroke-linejoin="round" shape-rendering="auto">
<polygon fill="#8cff00" points="533.3,393.3 558.1,393.3 559.5,398.7 556.4,400.9 551.9,402.6 550.2,404.8 551.5,407.1 554.1,409.3 554.6,411.9 553.7,414.6 551.0,416.4 548.4,418.1 546.6,419.9 544.0,422.5 540.4,425.2 537.8,427.9 536.0,429.6 533.3,429.6"/>
<polygon fill="#00fa8c" points="533.3,393.3 539.5,393.3 539.5,396.9 540.9,397.8 541.3,401.3 540.0,404.8 537.8,408.4 536.0,407.1 533.3,407.1"/>
<polygon fill="#00fa8c" points="533.3,412.4 536.0,412.4 540.4,413.3 543.1,415.0 542.6,418.1 539.5,419.9 536.9,419.0 533.3,419.0"/>
<polygon fill="#8cff00" points="567.9,393.3 567.9,396.0 572.3,396.9 574.9,399.5 576.7,402.4 579.4,400.9 580.2,397.8 579.4,393.3"/>
<polygon fill="#8cff00" points="570.5,404.0 571.4,403.5 573.2,406.2 577.6,407.9 581.1,410.2 582.0,413.3 580.2,415.9 576.7,417.2 573.2,415.9 571.8,412.8 571.4,409.3"/>
<polygon fill="#8cff00" points="589.1,393.3 590.0,397.8 588.2,400.4 587.8,403.1 590.0,405.7 594.4,407.1 597.9,408.4 602.4,409.3 605.9,407.9 609.5,405.7 612.1,403.1 613.9,401.3 616.0,400.4 618.7,400.4 618.7,393.3"/>
<polygon fill="none" points="607.9,396.4 609.9,396.4 609.5,398.5 608.1,398.5"/>
<polygon fill="#00fa8c" points="618.7,408.4 616.0,408.8 614.3,409.7 616.0,410.6 618.7,410.6"/>
<polygon fill="#8cff00" points="543.1,449.1 543.1,440.2 544.8,437.6 550.2,434.9 551.9,432.3 556.4,431.4 559.0,428.7 559.0,426.1 562.5,423.0 566.1,422.5 570.5,426.1 571.4,427.4 574.1,424.3 577.6,421.7 581.1,423.4 583.8,424.8 582.9,427.9 582.0,430.5 582.9,433.2 585.6,431.4 589.1,429.6 591.8,427.0 592.6,423.4 590.0,419.9 587.3,417.2 586.9,414.6 589.1,412.8 593.5,414.1 597.9,415.0 602.4,415.0 606.8,417.7 609.5,419.2 605.0,419.5 601.5,419.9 599.7,420.8 599.7,424.3 599.7,427.9 598.8,431.4 597.9,434.1 599.7,436.7 603.3,437.6 605.9,434.1 608.6,430.5 610.3,430.5 613.0,432.3 614.8,434.1 616.0,434.9 618.7,434.9 618.7,449.1"/>
<polygon fill="#00fa8c" points="588.7,437.6 590.0,435.8 592.6,436.3 593.5,438.5 590.9,439.4"/>
<polygon fill="none" points="575.6,436.7 577.2,436.3 577.6,438.5 576.3,438.9"/>
</g>
<clipPath id="w18"><rect x="616" y="364" width="80" height="35"/></clipPath>
<g clip-path="url(#w18)" stroke="#000" stroke-width="1.15" stroke-linejoin="round" shape-rendering="auto">
<polygon fill="#8cff00" points="613.3,359.3 698.7,359.3 698.7,415.1 613.3,415.1"/>
<polygon fill="#00fa8c" points="642.5,359.3 643.4,363.8 646.1,367.3 647.9,368.2 652.3,365.5 657.6,365.1 663.8,364.2 669.1,364.7 672.6,366.0 670.0,368.6 670.9,371.7 675.3,373.5 676.6,376.2 675.3,377.9 670.9,379.7 669.1,382.4 666.4,385.5 665.6,387.7 666.4,390.3 667.3,387.7 672.6,386.8 677.1,388.5 679.7,390.3 683.3,388.5 686.8,388.5 688.6,391.2 690.3,394.7 691.2,397.0 692.1,398.3 693.9,395.6 696.0,393.9 698.7,393.9 698.7,359.3"/>
<polygon fill="#00fa8c" points="657.2,371.3 660.2,368.2 663.8,371.3 660.2,372.4"/>
<polygon fill="#00fa8c" points="620.0,397.0 621.8,394.3 624.0,396.5 623.1,399.2 620.9,399.2"/>
<polygon fill="#00fa8c" points="626.2,401.8 628.4,400.1 630.6,401.4 629.3,404.5 627.5,404.3"/>
<polygon fill="#00fa8c" points="657.2,399.2 658.5,396.1 660.2,394.3 662.9,397.4 663.8,400.1 662.0,402.7 659.4,403.6 657.6,402.3"/>
<polygon fill="#00fa8c" points="638.1,408.9 638.1,406.0 639.0,402.7 641.2,400.9 643.4,402.7 644.3,406.0 644.3,408.9"/>
<polygon fill="#00fa8c" points="613.3,401.8 616.9,402.3 619.5,404.5 620.0,408.9 613.3,408.9"/>
<polygon fill="none" points="633.3,393.6 635.0,392.1 636.8,393.6"/>
<polygon fill="none" points="677.1,395.8 679.0,393.0 681.0,395.8"/>
<polygon fill="none" points="691.9,402.9 692.8,402.9 692.8,403.8 691.9,403.8"/>
</g>
<clipPath id="w19"><rect x="616" y="399" width="80" height="42"/></clipPath>
<g clip-path="url(#w19)" stroke="#000" stroke-width="1.15" stroke-linejoin="round" shape-rendering="auto">
<polygon fill="#8cff00" points="613.3,393.3 698.7,393.3 698.7,422.5 696.0,422.5 693.0,423.4 691.2,425.2 689.5,427.9 686.8,429.6 685.9,432.3 686.8,434.9 691.2,434.1 693.9,434.1 696.0,434.9 698.7,434.9 698.7,438.5 696.0,438.5 692.1,438.5 686.8,437.6 679.7,437.2 674.4,435.8 670.9,433.2 671.8,429.6 670.9,426.1 672.6,422.5 673.5,419.9 671.8,417.2 670.0,414.6 667.3,413.7 663.8,413.7 660.2,413.3 657.6,411.5 654.9,409.3 652.3,408.8 648.7,410.2 646.1,412.4 647.9,414.6 649.2,416.8 645.2,417.2 640.8,417.2 639.0,415.5 636.4,412.8 634.6,411.9 631.0,412.8 627.5,412.8 626.6,410.2 624.0,408.4 621.3,406.6 618.7,404.0 616.0,403.1 613.3,403.1"/>
<polygon fill="#00fa8c" points="657.6,399.5 658.5,396.4 661.1,396.0 663.3,398.7 662.9,401.3 660.2,403.5 658.0,402.6"/>
<polygon fill="#00fa8c" points="638.1,404.8 639.9,402.2 641.7,401.3 644.3,404.4 643.4,407.5 641.2,409.3 638.6,407.5"/>
<polygon fill="#00fa8c" points="626.2,402.2 627.5,400.2 630.2,400.9 630.6,402.6 628.8,404.4 627.1,404.0"/>
<polygon fill="#00fa8c" points="620.0,397.3 620.4,395.1 624.0,395.1 623.5,398.7 621.8,399.5"/>
<polygon fill="#00fa8c" points="681.5,418.1 684.1,416.4 689.5,414.6 693.0,415.0 693.9,416.4 692.1,419.0 689.5,421.7 686.8,423.0 683.3,422.1 681.9,420.3"/>
<polygon fill="#00fa8c" points="689.5,397.3 691.2,395.1 694.3,395.1 693.0,398.7 691.2,398.7"/>
<polygon fill="#8cff00" points="627.5,420.8 630.2,420.1 634.6,421.7 636.4,422.5 635.0,424.3 631.9,423.9 629.3,422.5"/>
<polygon fill="#8cff00" points="646.1,422.5 647.9,421.5 651.0,422.1 649.6,423.9 647.4,424.3"/>
<polygon fill="#8cff00" points="618.2,425.2 621.3,422.5 625.7,424.3 629.3,426.5 631.9,429.6 633.7,432.3 635.0,434.9 631.0,436.3 626.6,436.7 624.0,433.2 621.3,429.6 618.7,427.0"/>
<polygon fill="none" points="613.3,436.9 617.8,437.2 621.3,438.1 633.7,439.0"/>
</g>
<clipPath id="w20"><rect x="696" y="364" width="72" height="35"/></clipPath>
<g clip-path="url(#w20)" stroke="#000" stroke-width="1.15" stroke-linejoin="round" shape-rendering="auto">
<polygon fill="#8cff00" points="747.3,359.3 747.3,365.5 743.8,366.9 740.2,368.6 739.4,370.8 736.7,372.6 734.1,371.3 731.4,370.4 728.7,370.4 725.2,372.2 720.8,374.4 718.1,376.6 716.4,379.7 714.6,382.8 716.4,384.1 719.9,383.2 723.4,381.0 726.1,380.1 729.6,379.7 731.4,382.4 733.2,385.9 735.8,388.1 740.2,389.9 743.8,392.1 747.3,393.4 752.6,393.0 757.9,392.5 762.4,393.4 765.0,395.2 766.8,396.1 769.5,396.1 769.5,359.3"/>
<polygon fill="#00fa8c" points="726.5,377.0 729.6,373.9 731.4,374.4 733.6,377.0 731.4,379.7 728.7,379.3"/>
<polygon fill="#00fa8c" points="754.8,367.3 756.6,366.0 757.9,367.3 757.1,369.5 755.7,369.1"/>
<polygon fill="#00fa8c" points="760.6,371.3 762.4,370.0 764.6,371.3 762.8,374.4"/>
<polygon fill="#00fa8c" points="765.0,364.7 766.8,362.4 769.5,362.0 769.5,366.4 766.8,366.4"/>
<polygon fill="#8cff00" points="693.3,392.1 696.0,392.5 698.7,390.3 701.3,393.0 704.0,395.6 707.5,397.0 711.0,398.3 712.8,400.9 713.3,406.0 713.3,408.9 693.3,408.9"/>
<polygon fill="#8cff00" points="721.7,397.4 724.3,395.6 727.0,396.5 728.7,398.7 726.5,400.9 725.2,403.6 724.3,408.9 722.5,408.9 722.5,402.7 721.7,400.9"/>
<polygon fill="#8cff00" points="759.7,408.9 759.7,406.0 761.5,403.6 764.1,402.3 766.8,402.7 767.7,406.0 767.7,408.9"/>
<polygon fill="none" points="716.4,393.4 718.1,392.1 719.9,393.4 718.1,394.7"/>
<polygon fill="none" points="754.0,398.7 756.6,396.1 759.3,398.7 756.6,401.4"/>
</g>
<clipPath id="w21"><rect x="696" y="399" width="72" height="42"/></clipPath>
<g clip-path="url(#w21)" stroke="#000" stroke-width="1.15" stroke-linejoin="round" shape-rendering="auto">
<polygon fill="#8cff00" points="693.3,393.3 704.8,393.3 704.8,396.0 709.3,397.3 711.9,399.5 712.8,403.1 712.8,404.8 716.4,407.5 722.5,404.8 725.2,403.1 722.5,399.5 721.7,396.9 722.5,393.3 727.9,393.3 727.9,397.8 726.1,400.4 725.2,403.1 727.9,405.7 731.4,408.4 734.9,406.6 737.6,405.7 740.2,408.4 742.9,410.6 747.3,411.0 753.5,409.3 757.9,406.6 761.5,404.0 764.1,403.1 766.8,404.0 769.5,404.0 769.5,419.9 766.8,419.9 763.3,419.0 759.7,416.4 757.1,413.7 753.5,416.4 750.0,418.1 750.9,419.9 749.1,421.7 743.8,421.7 740.2,422.5 738.5,426.1 736.7,429.6 733.2,431.8 729.6,432.3 726.1,431.4 724.3,429.6 721.7,428.7 717.2,428.3 711.9,427.9 710.2,426.1 708.4,423.4 704.8,422.5 700.4,421.7 696.0,421.7 693.3,421.7"/>
<polygon fill="#00fa8c" points="706.2,408.4 707.5,406.6 711.5,404.8 712.8,404.8 716.4,407.5 720.8,409.3 724.3,411.5 725.2,413.7 724.3,415.5 721.7,416.8 716.4,418.8 711.5,421.2 710.2,419.9 711.5,417.2 713.3,414.8 711.0,412.8 707.1,411.5"/>
<polygon fill="#00fa8c" points="697.3,410.2 699.5,408.4 703.1,409.3 701.3,411.9 699.1,412.4"/>
<polygon fill="#00fa8c" points="762.4,407.5 765.0,405.7 769.5,406.2 769.5,416.4 766.8,416.4 764.1,413.7 761.9,410.2"/>
<polygon fill="none" points="736.0,414.3 736.7,414.3 736.7,414.9 736.0,414.9"/>
<polygon fill="#8cff00" points="742.0,437.2 745.6,434.1 749.1,431.4 752.6,428.7 754.4,425.2 757.1,423.9 759.3,426.1 759.3,430.5 757.9,434.1 753.5,436.7 749.1,438.9 744.7,438.5"/>
<polygon fill="#8cff00" points="709.3,439.4 711.9,437.4 715.5,437.4 715.9,440.2 713.7,441.3 710.2,441.1"/>
<polygon fill="#8cff00" points="727.4,441.3 730.5,439.4 734.1,439.8 736.7,441.6"/>
<polygon fill="none" points="696.0,427.9 697.8,426.5 700.0,427.9 699.1,430.1 696.9,430.1"/>
<polygon fill="none" points="754.4,399.1 756.6,396.4 758.8,399.1 756.6,401.3"/>
</g>
<rect x="136" y="441.4" width="632" height="0.6" fill="#00d0ff"/>
<rect x="136" y="442" width="632" height="1.3" fill="#0046e6"/>
<g shape-rendering="crispEdges"><polyline fill="none" stroke="#000" stroke-width="1" points="136,164.5 768,164.5"/><polyline fill="none" stroke="#000" stroke-width="2" points="136,193.5 148,193.5 148,194.5 336,194.5"/><polyline fill="none" stroke="#000" stroke-width="2" points="382,194.5 540,194.8 541,194 640,194 641,193.2 693,193.2 694,193.8 768,193.8"/><polyline fill="none" stroke="#000" stroke-width="2" points="136,208.5 336,208.5"/><polyline fill="none" stroke="#000" stroke-width="2" points="382,208.2 768,207.8"/><polyline fill="none" stroke="#000" stroke-width="1" points="136,219.5 768,219.5"/><polyline fill="none" stroke="#000" stroke-width="1" points="136,265 160,265 161,264.5 185,264.5 186,263.8 215,263.8 216,263 240,263 241,262.5 294,262.4 337,262.3 338,263.3 382,263.3 383,264 452,264 500,263.6 750,263.6 751,262.5 768,262.2"/><polyline fill="none" stroke="#000" stroke-width="2" points="136,276 245,276 245,274.8 252,274.8 252,276.9 320,277.5 336,277.7"/><polyline fill="none" stroke="#000" stroke-width="2" points="382,277.7 420,277.5 500,277.3 501,276.3 564,276.3 565,275.5 680,275.5 681,277 750,277 751,275.5 768,275.5"/><polyline fill="none" stroke="#000" stroke-width="1" points="136,284.5 254,284.5 254,285.5 281,285.5 281,284 336,283.8"/><polyline fill="none" stroke="#000" stroke-width="1" points="382,283.8 436,283.8 500,283.6 560,284 600,285.5 680,286 768,285.3"/><polyline fill="none" stroke="#000" stroke-width="2" points="136,289.5 236,289.5 290,289 320,288.5 336,288"/><polyline fill="none" stroke="#000" stroke-width="2" points="382,287.5 420,287.5 450,287.3 455,289 475,289 476,291.5 578,291.5 579,290.2 636,289.2 660,289.2 665,290 720,290 768,289.6"/><polyline fill="none" stroke="#000" stroke-width="2" points="136,446.5 336,446.5"/><polyline fill="none" stroke="#000" stroke-width="2" points="382,446.5 520,446.5 520,447.5 534,447.5 534,446.5 675,446.5 675,445.6 682,445.6 682,446.5 768,446.5"/><polyline fill="none" stroke="#000" stroke-width="1" points="136,455.2 541,455.2 541,455.7 768,455.7"/><polyline fill="none" stroke="#000" stroke-width="2" points="136,467 336,467"/><polyline fill="none" stroke="#000" stroke-width="2" points="382,467 558,467 558,466.5 768,466.5"/></g>
<text x="340.5" y="198.6" font-family="Liberation Sans, sans-serif" font-size="18" textLength="37.5" lengthAdjust="spacingAndGlyphs">0.40</text>
<text x="340.5" y="212.8" font-family="Liberation Sans, sans-serif" font-size="18" textLength="37.5" lengthAdjust="spacingAndGlyphs">0.40</text>
<text x="340.5" y="282.3" font-family="Liberation Sans, sans-serif" font-size="18" textLength="37.5" lengthAdjust="spacingAndGlyphs">0.40</text>
<text x="340.5" y="293" font-family="Liberation Sans, sans-serif" font-size="18" textLength="37.5" lengthAdjust="spacingAndGlyphs">0.80</text>
<text x="340.5" y="452.4" font-family="Liberation Sans, sans-serif" font-size="18" textLength="37.5" lengthAdjust="spacingAndGlyphs">0.80</text>
<text x="340.5" y="471.6" font-family="Liberation Sans, sans-serif" font-size="18" textLength="37.5" lengthAdjust="spacingAndGlyphs">0.40</text>
<rect x="136" y="157" width="632" height="316" fill="none" stroke="#000" stroke-width="2"/>
<g fill="#000"><rect x="157.5" y="157" width="1" height="5"/><rect x="157.5" y="468" width="1" height="5"/><rect x="183.0" y="157" width="2" height="9"/><rect x="183.0" y="464" width="2" height="9"/><rect x="208.5" y="157" width="1" height="5"/><rect x="208.5" y="468" width="1" height="5"/><rect x="234.0" y="157" width="2" height="9"/><rect x="234.0" y="464" width="2" height="9"/><rect x="259.5" y="157" width="1" height="5"/><rect x="259.5" y="468" width="1" height="5"/><rect x="285.0" y="157" width="2" height="9"/><rect x="285.0" y="464" width="2" height="9"/><rect x="310.5" y="157" width="1" height="5"/><rect x="310.5" y="468" width="1" height="5"/><rect x="336.0" y="157" width="2" height="9"/><rect x="336.0" y="464" width="2" height="9"/><rect x="362.5" y="157" width="1" height="5"/><rect x="362.5" y="468" width="1" height="5"/><rect x="387.0" y="157" width="2" height="9"/><rect x="387.0" y="464" width="2" height="9"/><rect x="413.5" y="157" width="1" height="5"/><rect x="413.5" y="468" width="1" height="5"/><rect x="438.0" y="157" width="2" height="9"/><rect x="438.0" y="464" width="2" height="9"/><rect x="464.5" y="157" width="1" height="5"/><rect x="464.5" y="468" width="1" height="5"/><rect x="489.0" y="157" width="2" height="9"/><rect x="489.0" y="464" width="2" height="9"/><rect x="515.5" y="157" width="1" height="5"/><rect x="515.5" y="468" width="1" height="5"/><rect x="540.0" y="157" width="2" height="9"/><rect x="540.0" y="464" width="2" height="9"/><rect x="566.5" y="157" width="1" height="5"/><rect x="566.5" y="468" width="1" height="5"/><rect x="592.0" y="157" width="2" height="9"/><rect x="592.0" y="464" width="2" height="9"/><rect x="617.5" y="157" width="1" height="5"/><rect x="617.5" y="468" width="1" height="5"/><rect x="643.0" y="157" width="2" height="9"/><rect x="643.0" y="464" width="2" height="9"/><rect x="668.5" y="157" width="1" height="5"/><rect x="668.5" y="468" width="1" height="5"/><rect x="694.0" y="157" width="2" height="9"/><rect x="694.0" y="464" width="2" height="9"/><rect x="719.5" y="157" width="1" height="5"/><rect x="719.5" y="468" width="1" height="5"/><rect x="745.0" y="157" width="2" height="9"/><rect x="745.0" y="464" width="2" height="9"/><rect x="136" y="446.5" width="5" height="1"/><rect x="763" y="446.5" width="5" height="1"/><rect x="136" y="420.0" width="9" height="2"/><rect x="759" y="420.0" width="9" height="2"/><rect x="136" y="393.5" width="5" height="1"/><rect x="763" y="393.5" width="5" height="1"/><rect x="136" y="367.0" width="9" height="2"/><rect x="759" y="367.0" width="9" height="2"/><rect x="136" y="340.5" width="5" height="1"/><rect x="763" y="340.5" width="5" height="1"/><rect x="136" y="314.0" width="9" height="2"/><rect x="759" y="314.0" width="9" height="2"/><rect x="136" y="287.5" width="5" height="1"/><rect x="763" y="287.5" width="5" height="1"/><rect x="136" y="261.0" width="9" height="2"/><rect x="759" y="261.0" width="9" height="2"/><rect x="136" y="234.5" width="5" height="1"/><rect x="763" y="234.5" width="5" height="1"/><rect x="136" y="207.0" width="9" height="2"/><rect x="759" y="207.0" width="9" height="2"/><rect x="136" y="181.5" width="5" height="1"/><rect x="763" y="181.5" width="5" height="1"/></g>
<text x="335.5" y="112.5" font-family="Liberation Sans, sans-serif" font-size="30" textLength="233.5" lengthAdjust="spacingAndGlyphs" stroke="#fff" stroke-width="0.5">Saturation Ratio</text>
<text transform="translate(47.5,134.7) scale(1.18,1)" font-family="Liberation Sans, sans-serif" font-size="13.5" font-weight="bold" textLength="71.19" lengthAdjust="spacing">(x1E4 m)</text>
<text x="379" y="546.5" font-family="Liberation Sans, sans-serif" font-size="23" textLength="146" lengthAdjust="spacingAndGlyphs" stroke="#fff" stroke-width="0.35">X coordinate</text>
<text transform="translate(99.5,384.8) rotate(-90)" font-family="Liberation Sans, sans-serif" font-size="23" textLength="142.5" lengthAdjust="spacingAndGlyphs" stroke="#fff" stroke-width="0.35">Z coordinate</text>
<text x="685" y="517.2" font-family="Liberation Sans, sans-serif" font-size="17" textLength="95.5" lengthAdjust="spacingAndGlyphs">(x1000 m)</text>
<text x="305" y="593" font-family="Liberation Sans, sans-serif" font-size="19.5" textLength="290" lengthAdjust="spacingAndGlyphs">CONTOUR INTERVAL = 2.000E-01</text>
<text x="778" y="169" font-family="Liberation Sans, sans-serif" font-size="17" textLength="119" lengthAdjust="spacingAndGlyphs">t=2.4444e+06</text>
<text x="177.3" y="494.8" font-family="Liberation Sans, sans-serif" font-size="18" textLength="12.4" lengthAdjust="spacingAndGlyphs" stroke="#000" stroke-width="0.5">4</text>
<text x="228.5" y="494.8" font-family="Liberation Sans, sans-serif" font-size="18" textLength="12.4" lengthAdjust="spacingAndGlyphs" stroke="#000" stroke-width="0.5">8</text>
<text x="275.2" y="494.8" font-family="Liberation Sans, sans-serif" font-size="18" textLength="21.2" lengthAdjust="spacingAndGlyphs" stroke="#000" stroke-width="0.5">12</text>
<text x="326.3" y="494.8" font-family="Liberation Sans, sans-serif" font-size="18" textLength="21.2" lengthAdjust="spacingAndGlyphs" stroke="#000" stroke-width="0.5">16</text>
<text x="377.5" y="494.8" font-family="Liberation Sans, sans-serif" font-size="18" textLength="21.2" lengthAdjust="spacingAndGlyphs" stroke="#000" stroke-width="0.5">20</text>
<text x="428.6" y="494.8" font-family="Liberation Sans, sans-serif" font-size="18" textLength="21.2" lengthAdjust="spacingAndGlyphs" stroke="#000" stroke-width="0.5">24</text>
<text x="479.8" y="494.8" font-family="Liberation Sans, sans-serif" font-size="18" textLength="21.2" lengthAdjust="spacingAndGlyphs" stroke="#000" stroke-width="0.5">28</text>
<text x="530.9" y="494.8" font-family="Liberation Sans, sans-serif" font-size="18" textLength="21.2" lengthAdjust="spacingAndGlyphs" stroke="#000" stroke-width="0.5">32</text>
<text x="582.0" y="494.8" font-family="Liberation Sans, sans-serif" font-size="18" textLength="21.2" lengthAdjust="spacingAndGlyphs" stroke="#000" stroke-width="0.5">36</text>
<text x="633.2" y="494.8" font-family="Liberation Sans, sans-serif" font-size="18" textLength="21.2" lengthAdjust="spacingAndGlyphs" stroke="#000" stroke-width="0.5">40</text>
<text x="684.3" y="494.8" font-family="Liberation Sans, sans-serif" font-size="18" textLength="21.2" lengthAdjust="spacingAndGlyphs" stroke="#000" stroke-width="0.5">44</text>
<text x="735.4" y="494.8" font-family="Liberation Sans, sans-serif" font-size="18" textLength="21.2" lengthAdjust="spacingAndGlyphs" stroke="#000" stroke-width="0.5">48</text>
<text x="114.6" y="427.5" font-family="Liberation Sans, sans-serif" font-size="19" textLength="12.6" lengthAdjust="spacingAndGlyphs" stroke="#000" stroke-width="0.5">1</text>
<text x="114.6" y="374.4" font-family="Liberation Sans, sans-serif" font-size="19" textLength="12.6" lengthAdjust="spacingAndGlyphs" stroke="#000" stroke-width="0.5">2</text>
<text x="114.6" y="321.3" font-family="Liberation Sans, sans-serif" font-size="19" textLength="12.6" lengthAdjust="spacingAndGlyphs" stroke="#000" stroke-width="0.5">3</text>
<text x="114.6" y="268.2" font-family="Liberation Sans, sans-serif" font-size="19" textLength="12.6" lengthAdjust="spacingAndGlyphs" stroke="#000" stroke-width="0.5">4</text>
<text x="114.6" y="215.1" font-family="Liberation Sans, sans-serif" font-size="19" textLength="12.6" lengthAdjust="spacingAndGlyphs" stroke="#000" stroke-width="0.5">5</text>
<rect x="784" y="247.0" width="18" height="22.6" fill="#ff2828" stroke="#000" stroke-width="2"/>
<rect x="784" y="269.6" width="18" height="22.6" fill="#ff5500" stroke="#000" stroke-width="2"/>
<rect x="784" y="292.2" width="18" height="22.6" fill="#ffaa00" stroke="#000" stroke-width="2"/>
<rect x="784" y="314.8" width="18" height="22.6" fill="#ffff00" stroke="#000" stroke-width="2"/>
<rect x="784" y="337.4" width="18" height="22.6" fill="#8cff00" stroke="#000" stroke-width="2"/>
<rect x="784" y="360.0" width="18" height="22.6" fill="#00fa8c" stroke="#000" stroke-width="2"/>
<rect x="784" y="382.6" width="18" height="22.6" fill="#00ffff" stroke="#000" stroke-width="2"/>
<rect x="784" y="405.2" width="18" height="22.6" fill="#0064ff" stroke="#000" stroke-width="2"/>
<rect x="784" y="427.8" width="18" height="22.6" fill="#0000b4" stroke="#000" stroke-width="2"/>
<rect x="784" y="450.4" width="18" height="22.6" fill="#3c00a0" stroke="#000" stroke-width="2"/>
<polygon points="784,247.0 793.4,206.5 802,247.0" fill="#ffa0a0" stroke="#000" stroke-width="2" shape-rendering="auto"/>
<polygon points="784,473.0 793.4,514 802,473.0" fill="#7c00a4" stroke="#000" stroke-width="2" shape-rendering="auto"/>
<text x="811.8" y="275.5" font-family="Liberation Sans, sans-serif" font-size="17" stroke="#000" stroke-width="0.45">1.08</text>
<text x="811.8" y="320.7" font-family="Liberation Sans, sans-serif" font-size="17" stroke="#000" stroke-width="0.45">1.04</text>
<text x="811.8" y="365.9" font-family="Liberation Sans, sans-serif" font-size="17" stroke="#000" stroke-width="0.45">1</text>
<text x="811.8" y="411.1" font-family="Liberation Sans, sans-serif" font-size="17" stroke="#000" stroke-width="0.45">0.96</text>
<text x="811.8" y="456.3" font-family="Liberation Sans, sans-serif" font-size="17" stroke="#000" stroke-width="0.45">0.92</text>
</svg></body></html>
